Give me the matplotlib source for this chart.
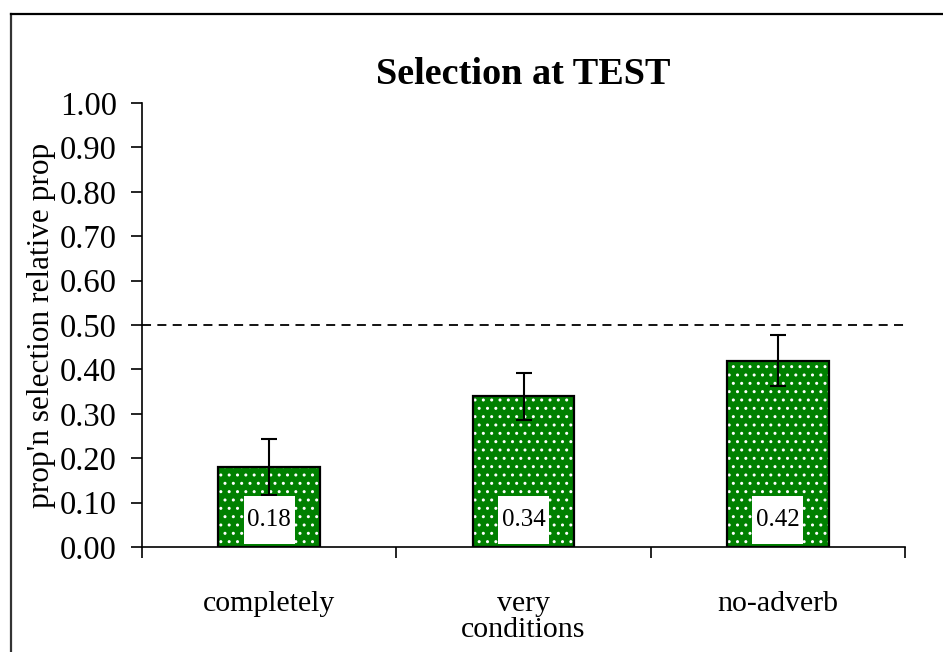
import numpy as np
import matplotlib.pyplot as plt
from matplotlib.lines import Line2D
from matplotlib.patches import Rectangle

plt.rcParams['font.family'] = ['Liberation Serif', 'DejaVu Serif']

conditions = ['completely', 'very', 'no-adverb']
means = [0.18, 0.34, 0.42]
errors = [0.063, 0.053, 0.057]
value_labels = ['0.18', '0.34', '0.42']
chance_level = 0.50
y_ticks = np.arange(0, 1.01, 0.1)

fig = plt.figure(figsize=(9.43, 6.52), dpi=100)
ax = fig.add_axes([142 / 943, 105 / 652, 763 / 943, 444 / 652])

x = np.arange(len(conditions))
width = 0.4

# green fill with white dotted pattern, then black outline on top
ax.bar(x, means, width, color='#008000', edgecolor='white', linewidth=0,
       hatch='..', zorder=2)
ax.bar(x, means, width, fill=False, edgecolor='black', linewidth=1.6, zorder=3)
ax.errorbar(x, means, yerr=errors, fmt='none', ecolor='black', elinewidth=1.5,
            capsize=5.5, capthick=1.5, zorder=4)

# value boxes at the foot of each bar
for xi, lab in zip(x, value_labels):
    ax.add_patch(Rectangle((xi - 0.1, 0.007), 0.2, 0.108, facecolor='white',
                           edgecolor='none', zorder=5))
    ax.text(xi, 0.061, lab, ha='center', va='center', fontsize=18, zorder=6)

ax.axhline(chance_level, color='black', lw=1.3, linestyle=(0, (5, 3.5)), zorder=1)

ax.set_xlim(-0.5, len(conditions) - 0.5)
ax.set_ylim(0, 1.0)
ax.set_yticks(y_ticks)
ax.set_yticklabels([f'{v:.2f}' for v in y_ticks], fontsize=23.5)
ax.set_xticks(x)
ax.set_xticklabels(conditions, fontsize=21.5)
ax.set_xticks(np.arange(-0.5, len(conditions)), minor=True)
ax.tick_params(axis='x', which='major', length=0, pad=32)
ax.tick_params(axis='x', which='minor', length=8, width=1.2, direction='out')
ax.tick_params(axis='y', length=8, width=1.2, direction='out', pad=10)

ax.set_xlabel('conditions', fontsize=21.5, labelpad=0)
ax.set_ylabel("prop'n selection relative prop", fontsize=22.5, labelpad=3)
ax.set_title('Selection at TEST', fontsize=27.5, fontweight='bold', pad=14)

for side in ['top', 'right']:
    ax.spines[side].set_visible(False)
for side in ['left', 'bottom']:
    ax.spines[side].set_linewidth(1.2)

# outer chart frame
fig.add_artist(Line2D([11 / 943, 11 / 943], [0, 1 - 14 / 652],
                      transform=fig.transFigure, color='#333333', lw=1.6))
fig.add_artist(Line2D([11 / 943, 1], [1 - 14 / 652, 1 - 14 / 652],
                      transform=fig.transFigure, color='black', lw=1.6))

fig.savefig('out.png', dpi=100)
